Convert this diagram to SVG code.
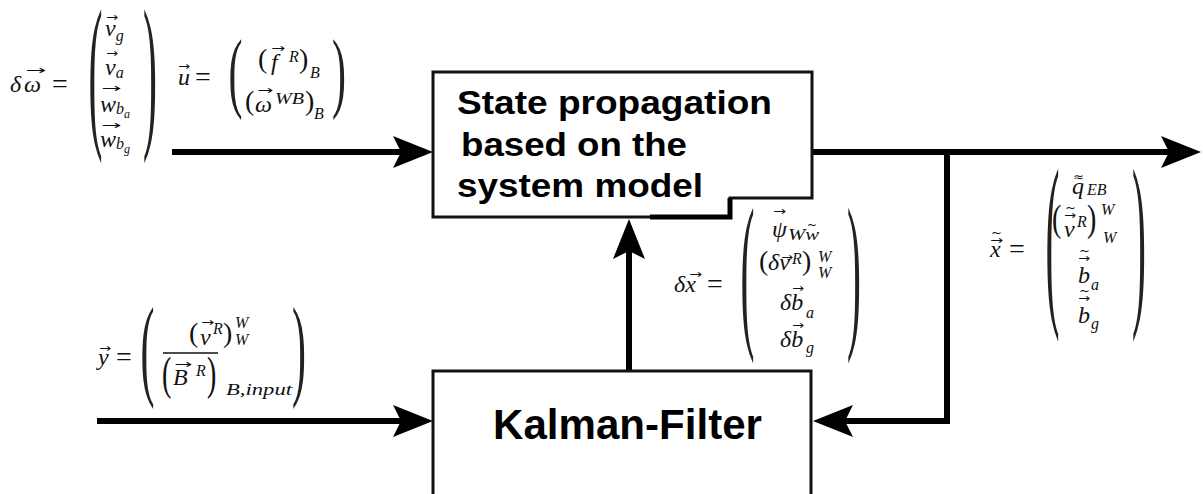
<svg xmlns="http://www.w3.org/2000/svg" width="1203" height="494" viewBox="0 0 1203 494">
<style>
.box{fill:#fff;stroke:#111;stroke-width:3}
.wire{fill:none;stroke:#000;stroke-width:6;stroke-linejoin:miter}
.t{font-family:"Liberation Sans",Arial,sans-serif;font-weight:bold;fill:#000}
.m{font-family:"Liberation Serif","DejaVu Serif",serif;font-style:italic;font-size:24px;fill:#111}
.eq{font-family:"Liberation Serif","DejaVu Serif",serif;font-style:normal;font-size:28px;fill:#111}
.s{font-family:"Liberation Serif","DejaVu Serif",serif;font-style:italic;font-size:16px;fill:#111}
.ss{font-size:12px}
.ar{font-family:"DejaVu Sans",sans-serif;font-style:normal;font-size:12px;fill:#111}
.pr{font-family:"Liberation Serif","DejaVu Serif",serif;font-style:normal;font-size:42px;fill:#222}
.rp{font-family:"Liberation Serif","DejaVu Serif",serif;font-style:normal;font-size:28px;fill:#111}
</style>
<defs>
<marker id="ah" markerUnits="userSpaceOnUse" markerWidth="42" markerHeight="34" viewBox="0 0 42 34" refX="9" refY="17" orient="auto">
<path d="M0,1 L40,17 L0,33 L8,17 Z" fill="#000"/>
</marker>
</defs>
<rect width="1203" height="494" fill="#fff"/>

<g id="connectors">
<path class="wire" d="M172,152 H402" marker-end="url(#ah)"/>
<path class="wire" d="M97,421 H402" marker-end="url(#ah)"/>
<path class="wire" d="M629,371 V250" marker-end="url(#ah)"/>
<path class="wire" d="M812,152 H1170" marker-end="url(#ah)"/>
<path class="wire" d="M947,152 V421 H844" marker-end="url(#ah)"/>
</g>

<g id="node-state">
<path class="box" d="M433,72 H812 V198 H730 V217 H433 Z"/>
<path d="M650,217 H730 V198" fill="none" stroke="#000" stroke-width="5"/>
<text class="t" font-size="34" x="457" y="114" textLength="315" lengthAdjust="spacingAndGlyphs">State propagation</text>
<text class="t" font-size="34" x="461" y="156" textLength="226" lengthAdjust="spacingAndGlyphs">based on the</text>
<text class="t" font-size="34" x="457" y="197" textLength="246" lengthAdjust="spacingAndGlyphs">system model</text>
</g>

<g id="node-kalman">
<path class="box" d="M433,500 V371 H811 V500"/>
<text class="t" font-size="42" x="493" y="439" textLength="269" lengthAdjust="spacingAndGlyphs">Kalman-Filter</text>
</g>

<g id="label-domega">
<text class="m" x="10" y="92" font-size="26">δ</text>
<text class="m" x="24" y="92" font-size="27">ω</text>
<text class="ar" x="25" y="74" textLength="21" lengthAdjust="spacingAndGlyphs">→</text>
<text class="eq" x="52" y="93">=</text>
<text class="pr" transform="translate(88.5,126.9) scale(1,4.05)">(</text>
<text class="pr" transform="translate(143,126.9) scale(1,4.05)">)</text>
<text class="m" x="105" y="36">v<tspan class="s" dy="5">g</tspan></text>
<text class="ar" x="106" y="21" textLength="12" lengthAdjust="spacingAndGlyphs">→</text>
<text class="m" x="105" y="75">v<tspan class="s" dy="3">a</tspan></text>
<text class="ar" x="106" y="57" textLength="12" lengthAdjust="spacingAndGlyphs">→</text>
<text class="m" x="100" y="112">w<tspan class="s" dy="2">b</tspan><tspan class="s ss" dy="4">a</tspan></text>
<text class="ar" x="101" y="92" textLength="20" lengthAdjust="spacingAndGlyphs">→</text>
<text class="m" x="100" y="147">w<tspan class="s" dy="2">b</tspan><tspan class="s ss" dy="4">g</tspan></text>
<text class="ar" x="101" y="129" textLength="20" lengthAdjust="spacingAndGlyphs">→</text>
</g>

<g id="label-u">
<text class="m" x="178" y="85">u</text>
<text class="ar" x="178" y="70" textLength="12" lengthAdjust="spacingAndGlyphs">→</text>
<text class="eq" x="195" y="86">=</text>
<text class="pr" transform="translate(228.5,101) scale(1,2.14)">(</text>
<text class="pr" transform="translate(332,101) scale(1,2.14)">)</text>
<text class="rp" x="258" y="68">(</text>
<text class="m" x="271" y="70">f</text>
<text class="ar" x="271" y="52" textLength="14" lengthAdjust="spacingAndGlyphs">→</text>
<text class="s" x="289" y="62">R</text>
<text class="rp" x="299" y="68">)</text>
<text class="s" x="310" y="78">B</text>
<text class="rp" x="245" y="110">(</text>
<text class="m" x="255" y="112">ω</text>
<text class="ar" x="257" y="94" textLength="16" lengthAdjust="spacingAndGlyphs">→</text>
<text class="s" x="275" y="104" textLength="29" lengthAdjust="spacingAndGlyphs">WB</text>
<text class="rp" x="305" y="110">)</text>
<text class="s" x="314" y="119">B</text>
</g>

<g id="label-dx">
<text class="m" x="674" y="292" font-size="26">δx</text>
<text class="ar" x="689" y="278" textLength="13" lengthAdjust="spacingAndGlyphs">→</text>
<text class="eq" x="707" y="293">=</text>
<text class="pr" transform="translate(740.5,326.5) scale(1,4.10)">(</text>
<text class="pr" transform="translate(847,326.5) scale(1,4.10)">)</text>
<text class="m" x="772" y="237">ψ</text>
<text class="ar" x="773" y="215" textLength="13" lengthAdjust="spacingAndGlyphs">→</text>
<text class="s" x="788" y="240" textLength="31" lengthAdjust="spacingAndGlyphs">Ww</text>
<text class="ar" x="807" y="229" textLength="10" lengthAdjust="spacingAndGlyphs">~</text>
<text class="rp" x="759" y="270" font-size="26">(</text>
<text class="m" x="768" y="270">δv</text>
<text class="ar" x="781" y="261" textLength="12" lengthAdjust="spacingAndGlyphs">→</text>
<text class="s" x="792" y="264">R</text>
<text class="rp" x="802" y="270" font-size="26">)</text>
<text class="s" x="818" y="262">W</text>
<text class="s" x="818" y="278">W</text>
<text class="m" x="780" y="310">δb</text>
<text class="ar" x="792" y="292" textLength="12" lengthAdjust="spacingAndGlyphs">→</text>
<text class="s" x="806" y="318">a</text>
<text class="m" x="780" y="347">δb</text>
<text class="ar" x="792" y="329" textLength="12" lengthAdjust="spacingAndGlyphs">→</text>
<text class="s" x="806" y="353">g</text>
</g>

<g id="label-x">
<text class="m" x="990" y="257">x</text>
<text class="ar" x="991" y="237" textLength="11" lengthAdjust="spacingAndGlyphs">~</text>
<text class="ar" x="990" y="244" textLength="13" lengthAdjust="spacingAndGlyphs">→</text>
<text class="eq" x="1009" y="258">=</text>
<text class="pr" transform="translate(1045.5,301) scale(1,4.55)">(</text>
<text class="pr" transform="translate(1132,301) scale(1,4.55)">)</text>
<text class="m" x="1072" y="194">q</text>
<text class="ar" x="1073" y="181" textLength="11" lengthAdjust="spacingAndGlyphs">≈</text>
<text class="s" x="1087" y="195" font-size="14">EB</text>
<text class="rp" transform="translate(1052,231) scale(1,1.38)">(</text>
<text class="m" x="1064" y="237">v</text>
<text class="ar" x="1065" y="212" textLength="11" lengthAdjust="spacingAndGlyphs">~</text>
<text class="ar" x="1064" y="219" textLength="12" lengthAdjust="spacingAndGlyphs">→</text>
<text class="s" x="1077" y="227">R</text>
<text class="rp" transform="translate(1087,231) scale(1,1.38)">)</text>
<text class="s" x="1101" y="215">W</text>
<text class="s" x="1103" y="243">W</text>
<text class="m" x="1078" y="283">b</text>
<text class="ar" x="1079" y="255" textLength="11" lengthAdjust="spacingAndGlyphs">~</text>
<text class="ar" x="1078" y="262" textLength="12" lengthAdjust="spacingAndGlyphs">→</text>
<text class="s" x="1091" y="290">a</text>
<text class="m" x="1078" y="323">b</text>
<text class="ar" x="1079" y="295" textLength="11" lengthAdjust="spacingAndGlyphs">~</text>
<text class="ar" x="1078" y="302" textLength="12" lengthAdjust="spacingAndGlyphs">→</text>
<text class="s" x="1091" y="329">g</text>
</g>

<g id="label-y">
<text class="m" x="98" y="365">y</text>
<text class="ar" x="99" y="352" textLength="12" lengthAdjust="spacingAndGlyphs">→</text>
<text class="eq" x="116" y="366">=</text>
<text class="pr" transform="translate(140.5,385.3) scale(1,2.65)">(</text>
<text class="pr" transform="translate(292,385.3) scale(1,2.65)">)</text>
<text class="rp" x="189" y="342">(</text>
<text class="m" x="200" y="345">v</text>
<text class="ar" x="201" y="326" textLength="13" lengthAdjust="spacingAndGlyphs">→</text>
<text class="s" x="213" y="334">R</text>
<text class="rp" x="223" y="342">)</text>
<text class="s" x="235" y="328">W</text>
<text class="s" x="235" y="345">W</text>
<line x1="163" y1="353" x2="218" y2="353" stroke="#111" stroke-width="1.5"/>
<text class="rp" transform="translate(162,388.7) scale(1,1.67)">(</text>
<text class="m" x="173" y="385">B</text>
<text class="ar" x="174" y="368" textLength="18" lengthAdjust="spacingAndGlyphs">→</text>
<text class="s" x="196" y="376">R</text>
<text class="rp" transform="translate(207,388.7) scale(1,1.67)">)</text>
<text class="s" x="226" y="395" textLength="66" lengthAdjust="spacingAndGlyphs">B,input</text>
</g>
</svg>
